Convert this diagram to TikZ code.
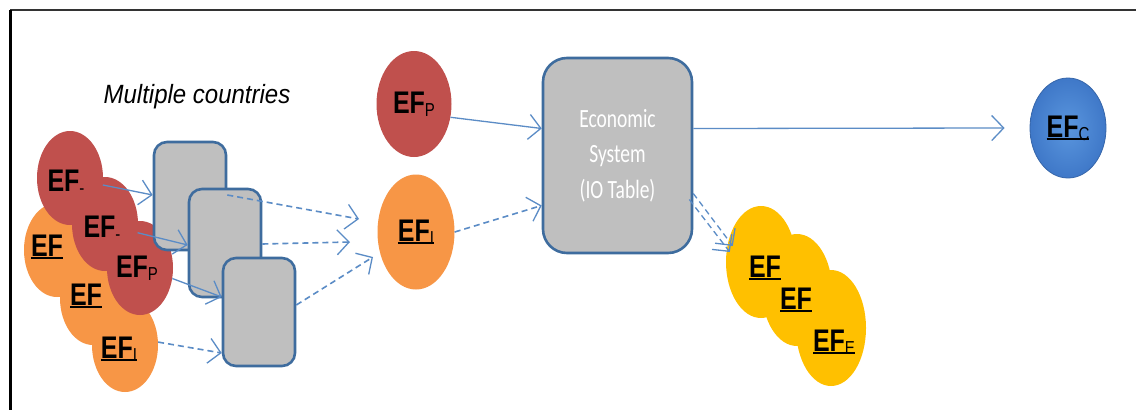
\documentclass[tikz,border=0pt]{standalone}
\usepackage{fontspec}
\setmainfont{Liberation Sans}
\newfontfamily\calfont{Carlito}
\usetikzlibrary{arrows.meta,shapes.geometric}

\definecolor{efred}{HTML}{C0504D}
\definecolor{eforange}{HTML}{F79646}
\definecolor{efyellow}{HTML}{FFC000}
\definecolor{efbluein}{HTML}{5A96DE}
\definecolor{efblueout}{HTML}{3F78C8}
\definecolor{boxgray}{HTML}{BFBFBF}
\definecolor{boxline}{HTML}{3E6C9E}
\definecolor{arrowblue}{HTML}{5B8CC6}

% bold label, slightly stretched upwards
\newcommand\eflab[1]{\scalebox{1}[1.25]{\fontsize{25}{25}\selectfont\bfseries #1}}
% small lowered index letter
\newcommand\efsub[1]{{\fontsize{15}{15}\selectfont\mdseries\raisebox{-2.5pt}{#1}}}
% thick underline under a label
\newcommand\efbar[1]{\setbox0\hbox{#1}\rlap{\rule[-3pt]{\wd0}{2.4pt}}\box0}

\begin{document}
\begin{tikzpicture}[x=1pt,y=-1pt,
  blob/.style={ellipse, minimum width=66pt, minimum height=94pt, inner sep=0pt, draw=none},
  redblob/.style={blob, fill=efred},
  orangeblob/.style={blob, fill=eforange},
  yellowblob/.style={blob, fill=efyellow, minimum width=70pt, minimum height=112pt},
  lab/.style={inner sep=0pt, anchor=center},
  cbox/.style={draw=boxline, line width=2.6pt, fill=boxgray, rounded corners=13pt,
    minimum width=72pt, minimum height=108pt, inner sep=0pt},
  solidarr/.style={draw=arrowblue, line width=1.3pt,
    -{Straight Barb[length=12pt, width=25pt, line width=1.3pt]}},
  dasharr/.style={solidarr, dash pattern=on 6pt off 4pt, line width=1.6pt}
]
\useasboundingbox (0,0) rectangle (1136,410);
\fill[white] (0,0) rectangle (1136,410);
% frame on the left and top
\draw[line width=1.5pt, black!80] (10,10) -- (1136,10);
\draw[line width=3pt] (10,10) -- (10,410);

\node[font=\itshape] (title) at (197,97) {\scalebox{1}[1.1]{\fontsize{24}{24}\selectfont Multiple countries}};

% country stacks
\node[orangeblob] (o1) at (57,250) {};
\node[orangeblob] (o2) at (93,298) {};
\node[orangeblob] (o3) at (125,345) {};
\node[redblob] (r1) at (70,178) {};
\node[redblob] (r2) at (105,224) {};
\node[redblob] (r3) at (140,268) {};
\node[lab] (lo1) at (47,247) {\efbar{\eflab{EF}}};
\node[lab] (lo2) at (86,296) {\efbar{\eflab{EF}}};
\node[lab] (lo3) at (119,349) {\efbar{\eflab{EF\efsub{I}}}};
\node[lab] (lr1) at (66,182) {\eflab{EF\efsub{-}}};
\node[lab] (lr2) at (102,228) {\eflab{EF\efsub{-}}};
\node[lab] (lr3) at (137,268) {\eflab{EF\efsub{P}}};

\node[cbox] (b1) at (190,196) {};
\node[cbox] (b2) at (225,243) {};
\node[cbox] (b3) at (259,312) {};

\draw[solidarr] (r1.-12) -- ([yshift=1pt]b1.west);
\draw[solidarr] (r2.-15) -- ([yshift=-2pt]b2.west);
\draw[solidarr] (r3.-18) -- ([yshift=15pt]b3.west);
\draw[dasharr] (o3.5) -- ([yshift=-41pt]b3.west);

% world level inputs
\node[redblob, minimum width=75pt, minimum height=106pt] (ep) at (414,104) {\eflab{EF\efsub{P}}};
\node[orangeblob, minimum width=77pt, minimum height=115pt] (ei) at (416,232) {\efbar{\eflab{EF\efsub{I}}}};

\coordinate (t1) at (359,219);
\coordinate (t2) at (350,242);
\coordinate (t3) at (373,257);
\draw[dasharr] ([yshift=1pt]b1.east) -- (t1);
\draw[dasharr] ([yshift=-1pt]b2.east) -- (t2);
\draw[dasharr] ([yshift=7pt]b3.east) -- (t3);

% economic system
\node[cbox, minimum width=149pt, minimum height=195pt, rounded corners=24pt] (eco) at (617.5,155.5) {};
\node[text=white, align=center] (ecotext) at (eco.center)
  {\scalebox{1}[1.35]{\calfont\fontsize{19.5}{27}\selectfont\begin{tabular}{@{}c@{}}Economic\\[-0.5pt]System\\[-0.5pt](IO Table)\end{tabular}}};

\draw[solidarr] (ep.-20) -- ([yshift=27pt]eco.west);
\draw[dasharr] (ei.east) -- ([yshift=-50pt]eco.west);

% consumption footprint
\node[blob, inner color=efbluein, outer color=efblueout, draw=efblueout!85!black, line width=0.8pt, minimum width=76pt, minimum height=100pt] (ec) at (1068,128) {\efbar{\eflab{EF\efsub{C}}}};
\draw[solidarr] ([yshift=27pt]eco.east) -- ([xshift=-25pt]ec.west);

% export footprints
\node[yellowblob] (y1) at (761,262) {};
\node[yellowblob] (y2) at (797,290) {};
\node[yellowblob, minimum width=70pt, minimum height=116pt] (y3) at (831,328) {};
\node[lab] (ly1) at (765,268) {\efbar{\eflab{EF}}};
\node[lab] (ly2) at (796,300) {\efbar{\eflab{EF}}};
\node[lab] (ly3) at (834,342) {\efbar{\eflab{EF\efsub{E}}}};

\draw[dasharr, line width=1.3pt] ([yshift=-38pt]eco.east) -- ([xshift=7pt,yshift=16pt]y1.west);
\draw[dasharr, line width=1.3pt] ([xshift=-4pt,yshift=-44pt]eco.east) -- ([xshift=4pt,yshift=10pt]y1.west);
\end{tikzpicture}
\end{document}
